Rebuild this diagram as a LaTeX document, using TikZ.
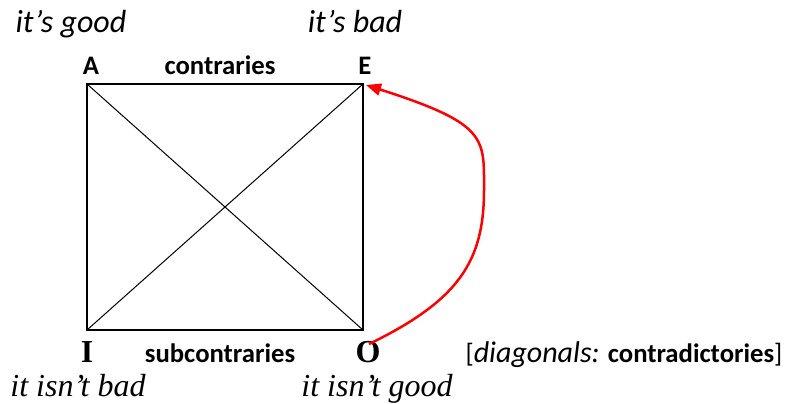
\documentclass[tikz,border=0pt]{standalone}
\usepackage{fontspec}
\setmainfont{Carlito}
\newfontfamily\serifface{Liberation Serif}
\usetikzlibrary{arrows.meta}
\definecolor{cRed}{RGB}{255,0,0}
\tikzset{
  basetext/.style={inner sep=0pt, anchor=base,
                   font=\fontsize{26.7}{32}\selectfont},
  vertexnode/.style={basetext, font=\fontsize{26.7}{32}\selectfont\bfseries},
  relnode/.style={basetext, font=\fontsize{26.7}{32}\selectfont\bfseries},
  readnode/.style={basetext, font=\fontsize{32}{38}\selectfont\itshape},
  serifvertex/.style={basetext, font=\serifface\fontsize{32}{38}\selectfont\bfseries},
  serifread/.style={basetext, font=\serifface\fontsize{32}{38}\selectfont\itshape},
  sqline/.style={line width=2.5pt, line join=miter},
  diagline/.style={line width=1pt},
  redarrow/.style={-{Triangle[length=15pt,width=12pt]}, line width=2.5pt,
                   color=cRed}
}
\begin{document}
\begin{tikzpicture}[x=1pt, y=-1pt]
  \useasboundingbox (0,0) rectangle (788,404);

  % corners of the square
  \coordinate (cA) at (87,84);
  \coordinate (cE) at (363,84);
  \coordinate (cI) at (87,330);
  \coordinate (cO) at (363,330);

  % readings
  \node[readnode] (good) at (71,33) {it’s good};
  \node[readnode] (bad) at (355,33) {it’s bad};
  \node[serifread] (isntbad) at (78,396) {it isn’t bad};
  \node[serifread] (isntgood) at (377,396) {it isn’t good};

  % vertices and relations
  \node[vertexnode] (A) at (91,75) {A};
  \node[vertexnode] (E) at (365,75) {E};
  \node[relnode] (contr) at (220,75) {contraries};
  \node[serifvertex] (I) at (87,362) {I};
  \node[serifvertex] (O) at (368,362) {O};
  \node[relnode] (subcontr) at (220,362) {subcontraries};
  \node[basetext] (note) at (624,362)
    {[{\fontsize{30}{36}\selectfont\itshape diagonals:} \textbf{contradictories}]};

  % square and diagonals
  \draw[sqline] (cA) -- (cE) -- (cO) -- (cI) -- cycle;
  \draw[diagline] (cA) -- (cO);
  \draw[diagline] (cE) -- (cI);

  % O to E
  \coordinate (tailO) at (369,344);
  \coordinate (headE) at (366,85);
  \draw[redarrow] (tailO) .. controls (460,300) and (484,260) .. (484,190)
    .. controls (484,138) and (488,124) .. (headE);
\end{tikzpicture}
\end{document}
